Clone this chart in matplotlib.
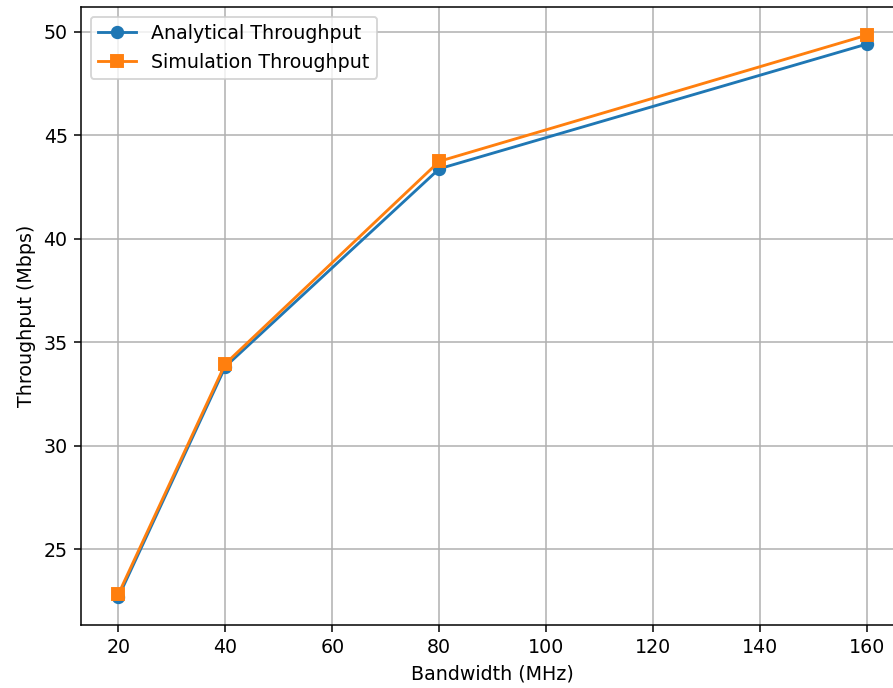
import matplotlib
matplotlib.use("Agg")
import matplotlib.pyplot as plt

bandwidth = [20, 40, 80, 160]
analytical = [22.69, 33.82, 43.38, 49.41]
simulation = [22.83, 33.96, 43.74, 49.84]

DPI = 137
fig = plt.figure(figsize=(893 / DPI, 688 / DPI), dpi=DPI)
ax = fig.add_axes([81 / 893, 63 / 688, 823.5 / 893, 618 / 688])

ax.plot(bandwidth, analytical, marker="o", label="Analytical Throughput")
ax.plot(bandwidth, simulation, marker="s", label="Simulation Throughput")

ax.set_xlabel("Bandwidth (MHz)")
ax.set_ylabel("Throughput (Mbps)")
ax.grid(True)
ax.legend(loc="upper left")

fig.savefig("out.png", dpi=DPI)
